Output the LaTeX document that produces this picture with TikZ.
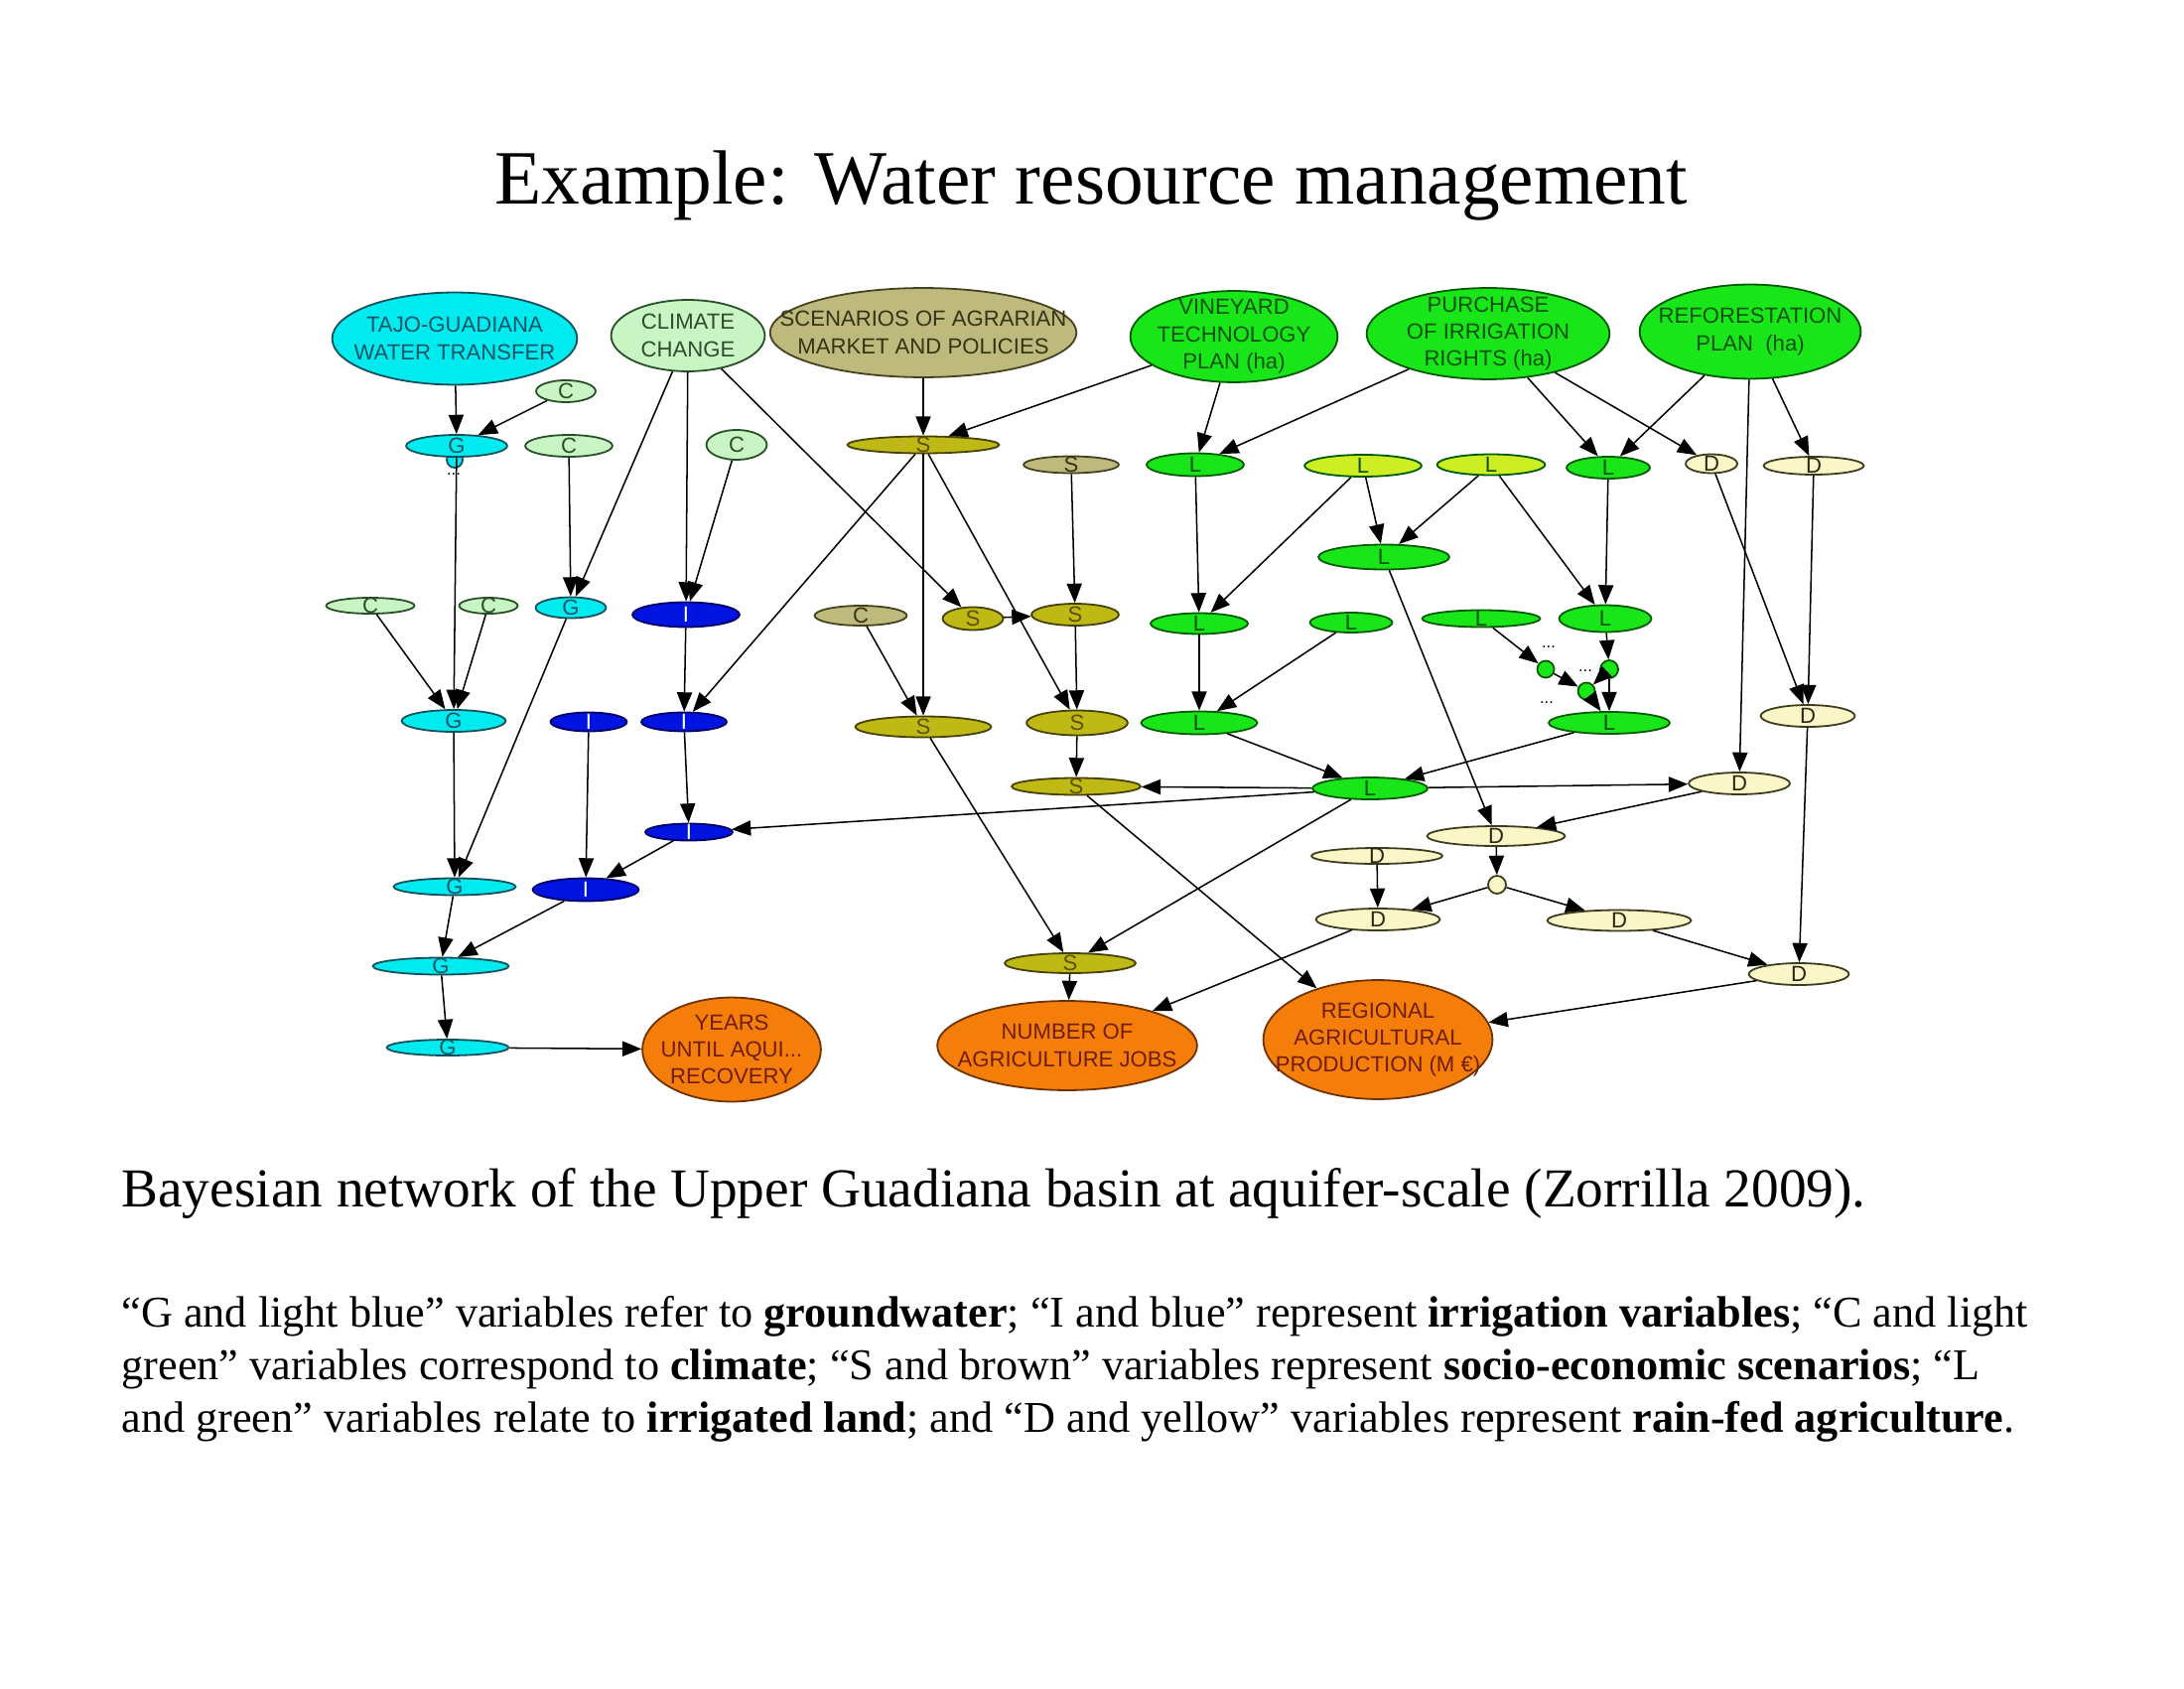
\documentclass[tikz,border=0pt]{standalone}
\usepackage{fontspec}
\setmainfont{Liberation Serif}
\newfontfamily\diagfont{Liberation Sans}
\usetikzlibrary{shapes.geometric, arrows.meta}

\definecolor{GwCyan}{RGB}{0,235,240}
\definecolor{GwLine}{RGB}{20,80,90}
\definecolor{GwText}{RGB}{20,85,100}
\definecolor{ClimGreen}{RGB}{200,245,195}
\definecolor{ClimLine}{RGB}{40,80,40}
\definecolor{ClimText}{RGB}{45,75,45}
\definecolor{ScenKhaki}{RGB}{190,186,125}
\definecolor{KhakiLine}{RGB}{70,65,30}
\definecolor{KhakiText}{RGB}{55,50,20}
\definecolor{SocOlive}{RGB}{190,185,20}
\definecolor{OliveLine}{RGB}{70,65,0}
\definecolor{OliveText}{RGB}{90,80,0}
\definecolor{LandGreen}{RGB}{25,230,25}
\definecolor{LandLime}{RGB}{205,238,35}
\definecolor{LandLine}{RGB}{0,90,0}
\definecolor{LandText}{RGB}{10,80,10}
\definecolor{IrrBlue}{RGB}{0,20,225}
\definecolor{IrrLine}{RGB}{0,0,100}
\definecolor{RainYellow}{RGB}{250,246,200}
\definecolor{RainLine}{RGB}{60,60,30}
\definecolor{RainText}{RGB}{40,40,20}
\definecolor{OutOrange}{RGB}{245,125,10}
\definecolor{OutLine}{RGB}{110,50,0}
\definecolor{OutText}{RGB}{110,30,10}

\tikzset{
  sz/.style 2 args={minimum width=#1*0.36135pt, minimum height=#2*0.36135pt},
  joint/.style={circle, minimum size=#1*0.36135pt},
  var/.style={ellipse, inner sep=0pt, line width=0.65pt},
  tag/.style={font=\diagfont\fontsize{8}{9.9}\selectfont, align=center, inner sep=0pt},
  txt/.style 2 args={label={[tag, text=#1]center:{#2}}},
  gw/.style={var, draw=GwLine, fill=GwCyan},
  cl/.style={var, draw=ClimLine, fill=ClimGreen},
  kh/.style={var, draw=KhakiLine, fill=ScenKhaki},
  so/.style={var, draw=OliveLine, fill=SocOlive},
  la/.style={var, draw=LandLine, fill=LandGreen},
  lm/.style={var, draw=LandLine, fill=LandLime},
  ir/.style={var, draw=IrrLine, fill=IrrBlue},
  rf/.style={var, draw=RainLine, fill=RainYellow},
  outcome/.style={var, draw=OutLine, fill=OutOrange},
  gvar/.style={gw, txt={GwText}{G}},
  cvar/.style={cl, txt={ClimText}{C}},
  svar/.style={so, txt={OliveText}{S}},
  lvar/.style={la, txt={LandText}{L}},
  limevar/.style={lm, txt={LandText}{L}},
  ivar/.style={ir, txt={white}{I}},
  dvar/.style={rf, txt={RainText}{D}},
  more/.style={font=\diagfont\fontsize{6}{6}\selectfont, inner sep=0pt},
  link/.style={-{Triangle[length=7pt, width=5.5pt]}, line width=0.55pt},
}

\begin{document}
\begin{tikzpicture}[x=0.005in, y=-0.005in]
\useasboundingbox (0,0) rectangle (2200,1700);

% Title
\node[anchor=base, font=\fontsize{28}{34}\selectfont] (title) at (1099,206) {Example: Water resource management};

% Decision and scenario nodes
\node[gw, sz={247}{93}, txt={GwText}{TAJO-GUADIANA\\WATER TRANSFER}] (tajo) at (458,341) {};
\node[cl, sz={155}{72}, txt={ClimText}{CLIMATE\\CHANGE}] (climate) at (693,338) {};
\node[kh, sz={309}{90}, txt={KhakiText}{SCENARIOS OF AGRARIAN\\MARKET AND POLICIES}] (scen) at (930,335) {};
\node[la, sz={209}{92}, txt={LandText}{VINEYARD\\TECHNOLOGY\\PLAN (ha)}] (vine) at (1243,339) {};
\node[la, sz={245}{92}, txt={LandText}{PURCHASE\\OF IRRIGATION\\RIGHTS (ha)}] (purch) at (1499,336) {};
\node[la, sz={223}{95}, txt={LandText}{REFORESTATION\\PLAN~~(ha)}] (refor) at (1763,334) {};

% First row of variables
\node[cvar, sz={60}{22}] (c1) at (570,394) {};
\node[gw, joint=16] (g1tail) at (458,463) {};
\node[more] (g1more) at (457,478) {...};
\node[gvar, sz={102}{22}] (g1) at (460,449) {};
\node[cvar, sz={88}{22}] (c2) at (573,449) {};
\node[cvar, sz={61}{30}] (c3) at (742,448) {};
\node[svar, sz={153}{17}] (s1) at (930,448) {};
\node[kh, sz={96}{17}, txt={KhakiText}{S}] (s2) at (1079,468) {};
\node[lvar, sz={98}{23}] (l1) at (1204,468) {};
\node[limevar, sz={118}{22}] (l2) at (1373,469) {};
\node[limevar, sz={109}{21}] (l3) at (1502,468) {};
\node[lvar, sz={84}{22}] (l4) at (1620,471) {};
\node[dvar, sz={52}{19}] (d1) at (1724,467) {};
\node[dvar, sz={101}{18}] (d2) at (1827,469) {};

% Second row
\node[lvar, sz={132}{25}] (l5) at (1394,561) {};
\node[cvar, sz={89}{16}] (c4) at (373,610) {};
\node[cvar, sz={59}{16}] (c5) at (492,610) {};
\node[gvar, sz={71}{21}] (g2) at (575,612) {};
\node[ivar, sz={108}{25}] (i1) at (691,619) {};
\node[kh, sz={93}{20}, txt={KhakiText}{C}] (c6) at (867,620) {};
\node[svar, sz={61}{23}] (s3) at (980,623) {};
\node[svar, sz={88}{22}] (s4) at (1083,619) {};
\node[lvar, sz={98}{21}] (l6) at (1208,628) {};
\node[lvar, sz={83}{20}] (l7) at (1361,627) {};
\node[lvar, sz={119}{17}] (l8) at (1492,623) {};
\node[lvar, sz={93}{27}] (l9) at (1617,623) {};

% Small joints between L nodes
\node[la, joint=17] (ci1) at (1557,674) {};
\node[la, joint=18] (ci2) at (1621,674) {};
\node[la, joint=17] (ci3) at (1598,696) {};
\node[more] (cimore1) at (1560,652) {...};
\node[more] (cimore2) at (1597,676) {...};
\node[more] (cimore3) at (1558,708) {...};

% Third row
\node[gvar, sz={105}{22}] (g3) at (457,726) {};
\node[ivar, sz={77}{19}] (i2) at (593,727) {};
\node[ivar, sz={86}{19}] (i3) at (689,727) {};
\node[svar, sz={137}{21}] (s5) at (930,732) {};
\node[svar, sz={102}{25}] (s6) at (1085,728) {};
\node[lvar, sz={117}{23}] (l10) at (1208,728) {};
\node[lvar, sz={122}{22}] (l11) at (1621,728) {};
\node[dvar, sz={95}{22}] (d3) at (1821,721) {};

% Lower rows
\node[svar, sz={130}{17}] (s7) at (1084,792) {};
\node[lvar, sz={116}{22}] (l12) at (1380,794) {};
\node[dvar, sz={102}{22}] (d4) at (1752,789) {};
\node[ivar, sz={88}{17}] (i4) at (694,838) {};
\node[dvar, sz={139}{20}] (d5) at (1507,842) {};
\node[dvar, sz={132}{16}] (d6) at (1387,862) {};
\node[gvar, sz={123}{17}] (g4) at (458,893) {};
\node[ivar, sz={107}{23}] (i5) at (590,896) {};
\node[rf, joint=18] (cd) at (1508,891) {};
\node[dvar, sz={125}{22}] (d7) at (1388,926) {};
\node[dvar, sz={145}{21}] (d8) at (1631,927) {};
\node[gvar, sz={137}{17}] (g5) at (444,973) {};
\node[svar, sz={132}{20}] (s8) at (1078,970) {};
\node[dvar, sz={101}{22}] (d9) at (1812,981) {};
\node[gvar, sz={123}{16}] (g6) at (451,1055) {};

% Outcome nodes
\node[outcome, sz={180}{105}, txt={OutText}{YEARS\\UNTIL AQUI...\\RECOVERY}] (years) at (737,1057) {};
\node[outcome, sz={262}{90}, txt={OutText}{NUMBER OF\\AGRICULTURE JOBS}] (jobs) at (1075,1053) {};
\node[outcome, sz={231}{120}, txt={OutText}{REGIONAL\\AGRICULTURAL\\PRODUCTION (M €)}] (regional) at (1388,1047) {};

% Groundwater and irrigation arrows
\draw[link] (tajo) -- (g1);
\draw[link] (c1) -- (g1);
\draw[link] (g1) -- (g3);
\draw[link] (c2) -- (g2);
\draw[link] (climate) -- (g2);
\draw[link] (climate) -- (i1);
\draw[link] (c3) -- (i1);
\draw[link] (climate) -- (s3);
\draw[link] (c4) -- (g3);
\draw[link] (c5) -- (g3);
\draw[link] (g2) -- (g4);
\draw[link] (g3) -- (g4);
\draw[link] (i1) -- (i3);
\draw[link] (s1) -- (i3);
\draw[link] (i3) -- (i4);
\draw[link] (i2) -- (i5);
\draw[link] (i4) -- (i5);
\draw[link] (l12) -- (i4);
\draw[link] (g4) -- (g5);
\draw[link] (i5) -- (g5);
\draw[link] (g5) -- (g6);
\draw[link] (g6) -- (years);

% Socio-economic arrows
\draw[link] (scen) -- (s1);
\draw[link] (vine) -- (s1);
\draw[link] (s1) -- (s5);
\draw[link] (s1) -- (s6);
\draw[link] (c6) -- (s5);
\draw[link] (s3) -- (s4);
\draw[link] (s2) -- (s4);
\draw[link] (s4) -- (s6);
\draw[link] (s6) -- (s7);
\draw[link] (l12) -- (s7);
\draw[link] (s5) -- (s8);
\draw[link] (l12) -- (s8);
\draw[link] (s8) -- (jobs);
\draw[link] (d7) -- (jobs);
\draw[link] (s7) -- (regional);
\draw[link] (d9) -- (regional);

% Land and rain-fed arrows
\draw[link] (vine) -- (l1);
\draw[link] (purch) -- (l1);
\draw[link] (purch) -- (l4);
\draw[link] (purch) -- (d1);
\draw[link] (refor) -- (l4);
\draw[link] (refor) -- (d2);
\draw[link] (refor) -- (d4);
\draw[link] (d1) -- (d3);
\draw[link] (d2) -- (d3);
\draw[link] (l1) -- (l6);
\draw[link] (l2) -- (l6);
\draw[link] (l2) -- (l5);
\draw[link] (l3) -- (l5);
\draw[link] (l3) -- (l9);
\draw[link] (l4) -- (l9);
\draw[link] (l5) -- (d5);
\draw[link] (l6) -- (l10);
\draw[link] (l7) -- (l10);
\draw[link] (l8) -- (ci1);
\draw[link] (ci1) -- (ci3);
\draw[link] (l9) -- (ci2);
\draw[link] (ci2) -- (ci3);
\draw[link] (ci2) -- (l11);
\draw[link] (ci3) -- (l11);
\draw[link] (l10) -- (l12);
\draw[link] (l11) -- (l12);
\draw[link] (l12) -- (d4);
\draw[link] (d4) -- (d5);
\draw[link] (d5) -- (cd);
\draw[link] (cd) -- (d7);
\draw[link] (cd) -- (d8);
\draw[link] (d6) -- (d7);
\draw[link] (d8) -- (d9);
\draw[link] (d3) -- (d9);

% Caption and legend
\node[anchor=base west, inner sep=0pt, font=\fontsize{20}{24}\selectfont] (caption) at (122,1215) {Bayesian network of the Upper Guadiana basin at aquifer-scale (Zorrilla 2009).};
\node[anchor=base west, inner sep=0pt, font=\fontsize{16}{19.2}\selectfont] (legend1) at (122,1336) {“G and light blue” variables refer to \textbf{groundwater}; “I and blue” represent \textbf{irrigation variables}; “C and light};
\node[anchor=base west, inner sep=0pt, font=\fontsize{16}{19.2}\selectfont] (legend2) at (122,1389) {green” variables correspond to \textbf{climate}; “S and brown” variables represent \textbf{socio-economic scenarios}; “L};
\node[anchor=base west, inner sep=0pt, font=\fontsize{16}{19.2}\selectfont] (legend3) at (122,1442) {and green” variables relate to \textbf{irrigated land}; and “D and yellow” variables represent \textbf{rain-fed agriculture}.};
\end{tikzpicture}
\end{document}
